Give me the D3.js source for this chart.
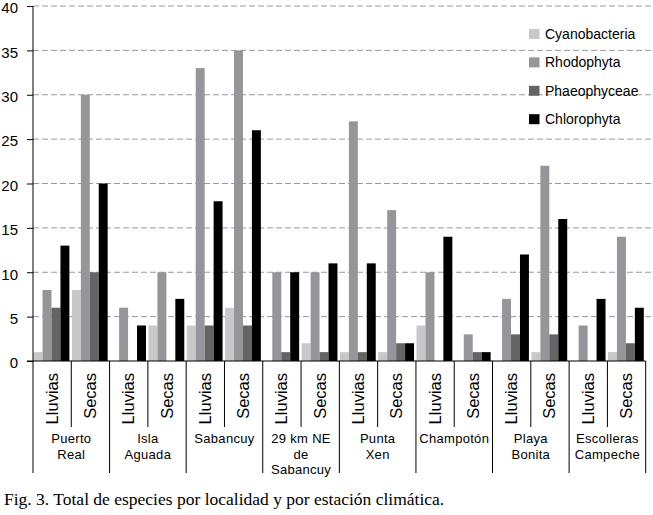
<!DOCTYPE html>
<html>
<head>
<meta charset="utf-8">
<script src="https://cdn.jsdelivr.net/npm/d3@7"></script>
<style>
  html, body { margin: 0; padding: 0; background: #fff; }
  svg { display: block; }
</style>
</head>
<body>
<svg id="chart" width="653" height="515"></svg>
<script>
// Data
const locations = [
  ["Puerto", "Real"],
  ["Isla", "Aguada"],
  ["Sabancuy"],
  ["29 km NE", "de", "Sabancuy"],
  ["Punta", "Xen"],
  ["Champotón"],
  ["Playa", "Bonita"],
  ["Escolleras", "Campeche"]
];
const seasons = ["Lluvias", "Secas"];
const series = ["Cyanobacteria", "Rhodophyta", "Phaeophyceae", "Chlorophyta"];
const seriesColors = ["#c8c8c8", "#96969a", "#646464", "#000000"];
// values per location x season, order: Lluvias, Secas for each location
const cyanobacteria = [1, 8, 0, 4, 4, 6, 0, 2, 1, 1, 4, 0, 0, 1, 0, 1];
const rhodophyta    = [8, 30, 6, 10, 33, 35, 10, 10, 27, 17, 10, 3, 7, 22, 4, 14];
const phaeophyceae  = [6, 10, 0, 0, 4, 4, 1, 1, 1, 2, 0, 1, 3, 3, 0, 2];
const chlorophyta   = [13, 20, 4, 7, 18, 26, 10, 11, 11, 2, 14, 1, 12, 16, 7, 6];
const yTicks = [0, 5, 10, 15, 20, 25, 30, 35, 40];
const caption = "Fig. 3. Total de especies por localidad y por estación climática.";

const seriesValues = [cyanobacteria, rhodophyta, phaeophyceae, chlorophyta];

// Build table
const groups = [];
locations.forEach((loc, li) => {
  seasons.forEach((s, si) => {
    groups.push({ id: li + "-" + si, loc: li, season: s, idx: li * 2 + si });
  });
});

const svg = d3.select("#chart");
const mLeft = 33, mRight = 645.7, mTop = 6, mBottom = 361;

const x0 = d3.scaleBand().domain(groups.map(g => g.id)).range([mLeft, mRight]).padding(0);
const x1 = d3.scaleBand().domain(series).range([0.6, x0.bandwidth() - 1.9]).padding(0);
const y = d3.scaleLinear().domain([0, 40]).range([mBottom, mTop]);

// Gridlines
svg.append("g")
  .selectAll("line")
  .data(yTicks.filter(t => t > 0))
  .join("line")
  .attr("x1", mLeft).attr("x2", 653)
  .attr("y1", d => y(d)).attr("y2", d => y(d))
  .attr("stroke", "#9a9a9a")
  .attr("stroke-width", 1)
  .attr("stroke-dasharray", "6,3");

// Bars
const gBars = svg.append("g");
groups.forEach(g => {
  series.forEach((s, si) => {
    const v = seriesValues[si][g.idx];
    if (v <= 0) return;
    gBars.append("rect")
      .attr("x", x0(g.id) + x1(s))
      .attr("width", x1.bandwidth())
      .attr("y", y(v))
      .attr("height", y(0) - y(v))
      .attr("fill", seriesColors[si]);
  });
});

// Y axis
const yAxis = d3.axisLeft(y).tickValues(yTicks).tickSize(6).tickPadding(9);
const gy = svg.append("g").attr("transform", `translate(${mLeft},0)`).call(yAxis);
gy.select(".domain").attr("stroke", "#000").attr("d", `M-0,${mTop}V${mBottom}`);
gy.selectAll(".tick line").attr("stroke", "#000");
gy.selectAll(".tick text")
  .attr("font-family", "Liberation Sans, Arial, sans-serif")
  .attr("font-size", 15)
  .attr("fill", "#000")
  .attr("dy", "0.45em");

// X axis baseline
svg.append("line")
  .attr("x1", mLeft - 6).attr("x2", mRight)
  .attr("y1", mBottom).attr("y2", mBottom)
  .attr("stroke", "#000");

// Separators
const gSep = svg.append("g");
groups.forEach(g => {
  const xs = x0(g.id);
  const isLocStart = g.season === "Lluvias";
  gSep.append("line")
    .attr("x1", xs).attr("x2", xs)
    .attr("y1", mBottom).attr("y2", isLocStart ? 473 : 427)
    .attr("stroke", "#000");
});
gSep.append("line")
  .attr("x1", mRight).attr("x2", mRight)
  .attr("y1", mBottom).attr("y2", 473)
  .attr("stroke", "#000");

// Season labels (rotated)
svg.append("g")
  .selectAll("text")
  .data(groups)
  .join("text")
  .attr("transform", d => `translate(${x0(d.id) + x0.bandwidth() / 2 + 5.5},373) rotate(-90)`)
  .attr("text-anchor", "end")
  .attr("font-family", "Liberation Sans, Arial, sans-serif")
  .attr("font-size", 16.5)
  .attr("fill", "#000")
  .text(d => d.season);

// Location labels
const gLoc = svg.append("g");
locations.forEach((lines, li) => {
  const cx = x0(li + "-0");
  const cxEnd = x0(li + "-1") + x0.bandwidth();
  const t = gLoc.append("text")
    .attr("x", (cx + cxEnd) / 2)
    .attr("y", 443)
    .attr("text-anchor", "middle")
    .attr("font-family", "Liberation Sans, Arial, sans-serif")
    .attr("font-size", 13)
    .attr("letter-spacing", 0.3)
    .attr("fill", "#000");
  lines.forEach((ln, i) => {
    t.append("tspan")
      .attr("x", (cx + cxEnd) / 2)
      .attr("y", 443 + i * 15.5)
      .text(ln);
  });
});

// Legend
const legend = svg.append("g").attr("transform", "translate(529,29)");
series.forEach((s, i) => {
  const row = legend.append("g").attr("transform", `translate(0,${i * 28.4})`);
  row.append("rect").attr("width", 10.5).attr("height", 10).attr("fill", seriesColors[i]);
  row.append("text")
    .attr("x", 16).attr("y", 5).attr("dy", "0.36em")
    .attr("font-family", "Liberation Sans, Arial, sans-serif")
    .attr("font-size", 14)
    .attr("fill", "#000")
    .text(s);
});

// Caption
svg.append("text")
  .attr("x", 4).attr("y", 505)
  .attr("font-family", "Liberation Serif, Times New Roman, serif")
  .attr("font-size", 17.5)
  .attr("fill", "#000")
  .text(caption);
</script>
</body>
</html>
